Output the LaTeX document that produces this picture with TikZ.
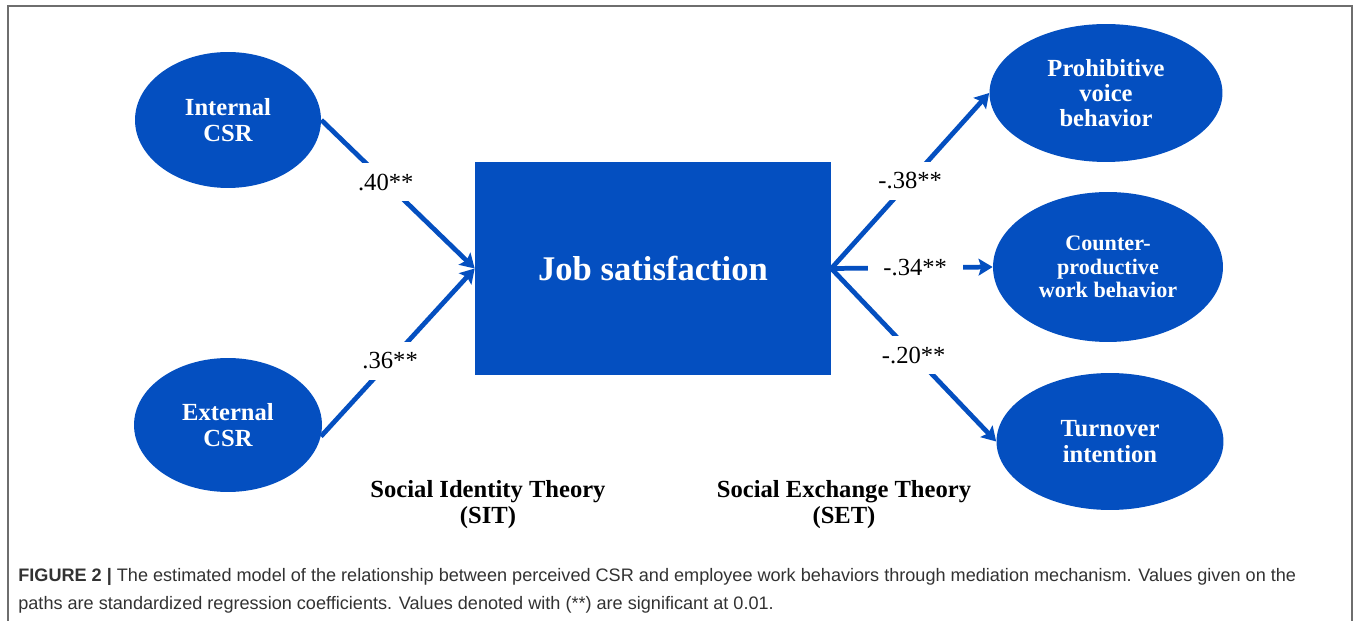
\documentclass[tikz,border=0pt]{standalone}
\usepackage{fontspec}
\setmainfont{Liberation Serif}
\setsansfont{Liberation Sans}
\usetikzlibrary{shapes.geometric,arrows.meta}
\definecolor{csrblue}{RGB}{4,79,192}
\definecolor{framegray}{RGB}{110,110,110}
\definecolor{captext}{RGB}{50,50,50}
\tikzset{
  blob/.style={ellipse, fill=csrblue, draw=none, inner sep=0pt, text=white, align=center,
    font=\bfseries\fontsize{14}{14.4}\selectfont},
  jobbox/.style={rectangle, fill=csrblue, draw=none, inner sep=0pt, text=white,
    font=\bfseries\fontsize{19.7}{22}\selectfont},
  arr/.style={draw=csrblue, line width=2.7pt, -{Stealth[length=8pt,width=9.5pt,inset=1.5pt]}},
  coef/.style={fill=white, inner xsep=5pt, inner ysep=6pt, font=\fontsize{14}{14}\selectfont},
  theory/.style={align=center, font=\bfseries\fontsize{14}{14.8}\selectfont},
  captxt/.style={anchor=west, text=captext, font=\sffamily\fontsize{10.3}{10.3}\selectfont, inner sep=0pt},
}
\begin{document}
\begin{tikzpicture}[x=0.02cm, y=-0.02cm]
\useasboundingbox (0,0) rectangle (1357,621);
% frame
\draw[framegray, line width=0.9pt] (8,621) -- (8,6) -- (1352,6) -- (1352,621);
% nodes
\node[blob, minimum width=3.72cm, minimum height=2.72cm] (int) at (228,120) {Internal\\CSR};
\node[blob, minimum width=3.76cm, minimum height=2.68cm] (ext) at (228,425) {External\\CSR};
\node[jobbox, minimum width=7.12cm, minimum height=4.26cm] (job) at (653,268.5) {Job satisfaction};
\node[blob, minimum width=4.66cm, minimum height=2.76cm] (pro) at (1106,93) {Prohibitive\\voice\\behavior};
\node[blob, minimum width=4.6cm, minimum height=3.0cm, font=\bfseries\fontsize{12.6}{13.4}\selectfont] (cwb) at (1108,267) {Counter-\\productive\\work behavior};
\node[blob, minimum width=4.54cm, minimum height=2.74cm] (tov) at (1110,441.5) {Turnover\\intention};
% connectors
\draw[arr] (int.east) -- (job.west) node[coef, pos=0.42] {.40**};
\draw[arr] (ext.-7) -- (job.west) node[coef, pos=0.45] {.36**};
\draw[arr] (job.east) -- (pro.west) node[coef, pos=0.5] {-.38**};
\draw[arr] (job.east) -- (cwb.west) node[coef, pos=0.52, inner xsep=9pt] {-.34**};
\draw[arr] (job.east) -- (tov.west) node[coef, pos=0.5] {-.20**};
% theory labels
\node[theory] (sit) at (488,505) {Social Identity Theory\\(SIT)};
\node[theory] (set) at (844,505) {Social Exchange Theory\\(SET)};
% caption
\node[captxt] (cap1) at (18,577)
  {\textbf{FIGURE 2 |} The estimated model of the relationship between perceived CSR and employee work behaviors through mediation mechanism. Values given on the};
\node[captxt] (cap2) at (18,605)
  {paths are standardized regression coefficients. Values denoted with (**) are significant at 0.01.};
\end{tikzpicture}
\end{document}
